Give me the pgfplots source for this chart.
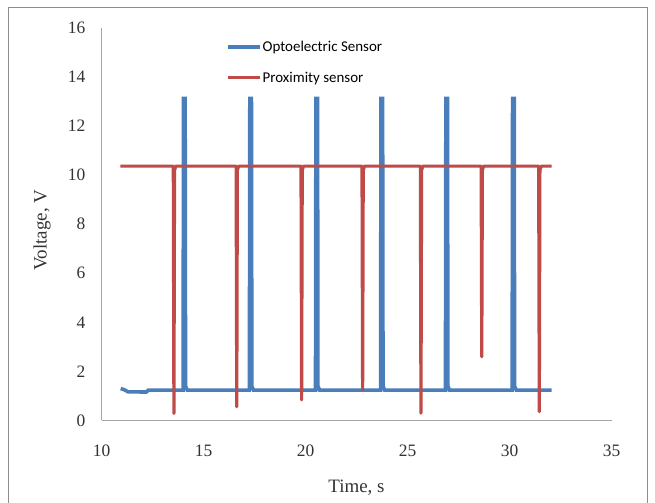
\documentclass[border=0pt]{standalone}
\usepackage{fontspec}
\setmainfont{Liberation Serif}
\newfontfamily\legfont{Carlito}
\usepackage{pgfplots}
\pgfplotsset{compat=1.18}
\definecolor{optoblue}{HTML}{4A7EBB}
\definecolor{proxred}{HTML}{BE4B48}
\definecolor{axisgray}{HTML}{A6A6A6}
\definecolor{framegray}{HTML}{8C8C8C}
\begin{document}
\begin{tikzpicture}[x=1bp,y=1bp]
\useasboundingbox (0,0) rectangle (655,503);
\draw[framegray,line width=0.9bp] (8.5,0) -- (8.5,495.5) -- (647,495.5) -- (647,0);
\begin{axis}[
  at={(101.5bp,82.5bp)}, anchor=south west,
  scale only axis, width=510bp, height=392.5bp,
  xmin=10, xmax=35, ymin=0, ymax=16,
  xtick={10,15,...,35}, ytick={0,2,...,16},
  axis x line=bottom, axis y line=left,
  axis line style={axisgray, line width=1.1bp, -},
  major tick length=0pt,
  tick label style={font=\fontsize{17.5}{20}\selectfont, text=black!80},
  /pgf/number format/assume math mode=true,
  xticklabel style={yshift=-20.5bp},
  yticklabel style={xshift=-12.7bp},
  xlabel={Time, s}, ylabel={Voltage, V},
  every axis x label/.style={at={(axis description cs:0.5,-0.172)}, anchor=center,
    font=\fontsize{19}{22}\selectfont, text=black!80},
  every axis y label/.style={at={(axis description cs:-0.1167,0.485)}, anchor=center, rotate=90,
    font=\fontsize{19}{22}\selectfont, text=black!80},
  clip=false,
  legend style={draw=none, fill=none, at={(axis cs:15.95,15.6)}, anchor=north west,
    font=\legfont\fontsize{15}{18}\selectfont, row sep=17bp,
    nodes={inner sep=1bp, anchor=west}},
  legend cell align=left,
  legend image code/.code={\draw[#1] (0bp,0bp) -- (32bp,0bp);},
]
\addplot[optoblue, line width=3.6bp, line join=miter] coordinates {
(10.94,1.30) (11.10,1.26) (11.30,1.17) (12.20,1.16) (12.30,1.24)
(14.00,1.24) (14.02,13.13) (14.10,13.13) (14.12,1.40) (14.20,1.24)
(17.25,1.24) (17.27,13.13) (17.35,13.13) (17.37,1.40) (17.45,1.24)
(20.49,1.24) (20.51,13.13) (20.59,13.13) (20.61,1.40) (20.69,1.24)
(23.68,1.24) (23.70,13.13) (23.78,13.13) (23.80,1.40) (23.88,1.24)
(26.86,1.24) (26.88,13.13) (26.96,13.13) (26.98,1.40) (27.06,1.24)
(30.13,1.24) (30.15,13.13) (30.23,13.13) (30.25,1.40) (30.33,1.24)
(32.07,1.24)
};
\addlegendentry{Optoelectric Sensor}
\addplot[proxred, line width=3.2bp, line join=round] coordinates {
(10.92,10.37)
(13.52,10.37) (13.55,0.29) (13.58,10.20) (13.64,10.37)
(16.60,10.37) (16.63,0.56) (16.66,10.20) (16.72,10.37)
(19.78,10.37) (19.81,0.84) (19.84,10.20) (19.90,10.37)
(22.77,10.37) (22.80,1.27) (22.83,10.20) (22.89,10.37)
(25.63,10.37) (25.66,0.30) (25.69,10.20) (25.75,10.37)
(28.61,10.37) (28.64,2.60) (28.67,10.20) (28.73,10.37)
(31.43,10.37) (31.46,0.36) (31.49,10.20) (31.55,10.37)
(32.07,10.37)
};
\addlegendentry{Proximity sensor}
\end{axis}
\end{tikzpicture}
\end{document}
